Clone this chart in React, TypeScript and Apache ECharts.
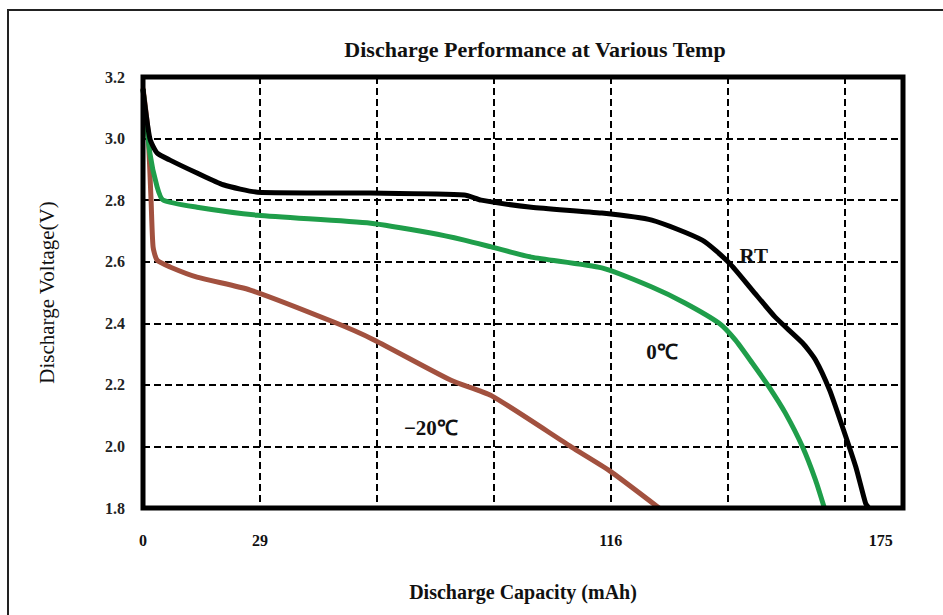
import React, { useEffect, useRef } from "react";
import * as echarts from "echarts";

// Discharge capacity (mAh) / voltage (V)
const rtCapacity = [0, 1.7, 3.5, 6.7, 13.4, 19.9, 28.4, 56.5, 79.7, 83.9, 96.3, 113.8, 126.2, 138.7, 145.4, 151.1, 156.8, 163.6, 166.8, 170.3, 173.5, 176.8, 179.2, 180.0];
const rtVoltage = [3.16, 3.0, 2.953, 2.93, 2.888, 2.85, 2.826, 2.823, 2.817, 2.80, 2.777, 2.758, 2.735, 2.67, 2.596, 2.508, 2.42, 2.336, 2.281, 2.183, 2.063, 1.933, 1.816, 1.8];

const zeroCapacity = [0, 1.7, 3.5, 5.0, 13.4, 28.4, 56.5, 71.4, 79.7, 86.4, 96.3, 113.8, 126.2, 134.4, 142.9, 146.9, 151.1, 155.3, 159.3, 163.6, 166.8, 169.0];
const zeroVoltage = [3.16, 2.953, 2.843, 2.80, 2.777, 2.751, 2.725, 2.693, 2.67, 2.648, 2.615, 2.58, 2.518, 2.466, 2.40, 2.346, 2.271, 2.193, 2.109, 1.998, 1.891, 1.8];

const minus20Capacity = [0, 1.2, 2.0, 2.5, 3.5, 6.7, 13.4, 26.6, 47.3, 57.3, 76.4, 86.4, 106.3, 115.5, 128.0];
const minus20Voltage = [3.164, 3.03, 2.80, 2.648, 2.605, 2.583, 2.55, 2.508, 2.404, 2.346, 2.215, 2.165, 1.998, 1.923, 1.8];

const seriesNames = ["RT", "0℃", "−20℃"];
const labelAnchors: [number, number][] = [[151.5, 2.62], [128.7, 2.307], [71.4, 2.06]];

const xLabelValues = [0, 29, 116, 183];
const xLabelTexts = ["0", "29", "116", "175"];

const titleText = "Discharge Performance at Various Temp";
const xName = "Discharge Capacity (mAh)";
const yName = "Discharge Voltage(V)";

const colors = ["#000000", "#1f9e4a", "#a2513f"];
const FONT = "Liberation Serif";

function pairs(xs: number[], ys: number[]) {
  return xs.map((x, i) => [x, ys[i]]);
}

export default function App() {
  const ref = useRef<HTMLDivElement>(null);
  useEffect(() => {
    if (!ref.current) return;
    const chart = echarts.init(ref.current, null, { renderer: "svg" });
    const datasets = [
      pairs(rtCapacity, rtVoltage),
      pairs(zeroCapacity, zeroVoltage),
      pairs(minus20Capacity, minus20Voltage),
    ];
    chart.setOption({
      animation: false,
      backgroundColor: "#ffffff",
      title: {
        text: titleText,
        left: 530,
        top: 33,
        textAlign: "center",
        textStyle: { fontFamily: FONT, fontWeight: "bold", fontSize: 22, color: "#111" },
      },
      graphic: [
        {
          type: "rect",
          shape: { x: 8, y: 10, width: 1000, height: 700 },
          style: { fill: "none", stroke: "#222", lineWidth: 2 },
          silent: true,
          z: -1,
        },
      ],
      grid: {
        left: 143,
        top: 77,
        right: 40,
        bottom: 107,
        show: true,
        borderColor: "#000",
        borderWidth: 5,
        backgroundColor: "transparent",
        z: 10,
      },
      xAxis: {
        type: "value",
        min: 0,
        max: 188.5,
        interval: 29,
        name: xName,
        nameLocation: "middle",
        nameGap: 74,
        nameTextStyle: { fontFamily: FONT, fontWeight: "bold", fontSize: 20, color: "#111" },
        axisLine: { show: false },
        axisTick: { show: false },
        axisLabel: {
          customValues: xLabelValues,
          formatter: (v: number) => {
            const i = xLabelValues.findIndex((x) => Math.abs(x - v) < 0.01);
            return i >= 0 ? xLabelTexts[i] : "";
          },
          margin: 24,
          fontFamily: FONT,
          fontWeight: "bold",
          fontSize: 16,
          color: "#111",
        },
        splitLine: { show: true, lineStyle: { color: "#000", width: 2, type: [7, 4] } },
      },
      yAxis: {
        type: "value",
        min: 1.8,
        max: 3.2,
        interval: 0.2,
        name: yName,
        nameLocation: "middle",
        nameGap: 86,
        nameTextStyle: { fontFamily: FONT, fontSize: 21, color: "#111" },
        axisLine: { show: false },
        axisTick: { show: false },
        axisLabel: {
          formatter: (v: number) => v.toFixed(1),
          margin: 18,
          fontFamily: FONT,
          fontWeight: "bold",
          fontSize: 16,
          color: "#222",
        },
        splitLine: { show: true, lineStyle: { color: "#000", width: 2, type: [7, 4] } },
      },
      series: datasets.map((d, i) => ({
        type: "line",
        name: seriesNames[i],
        data: d,
        showSymbol: false,
        symbol: "none",
        smooth: 0.2,
        lineStyle: { color: colors[i], width: 5 },
        z: 5 - i,
        markPoint: {
          symbol: "circle",
          symbolSize: 0,
          silent: true,
          data: [{ coord: labelAnchors[i], value: seriesNames[i] }],
          label: {
            show: true,
            position: "inside",
            formatter: seriesNames[i],
            fontFamily: FONT,
            fontWeight: "bold",
            fontSize: 21,
            color: "#111",
          },
        },
      })),
    });
    return () => chart.dispose();
  }, []);
  return (
    <div
      ref={ref}
      style={{ position: "fixed", left: 0, top: 0, width: 943, height: 615 }}
    />
  );
}
